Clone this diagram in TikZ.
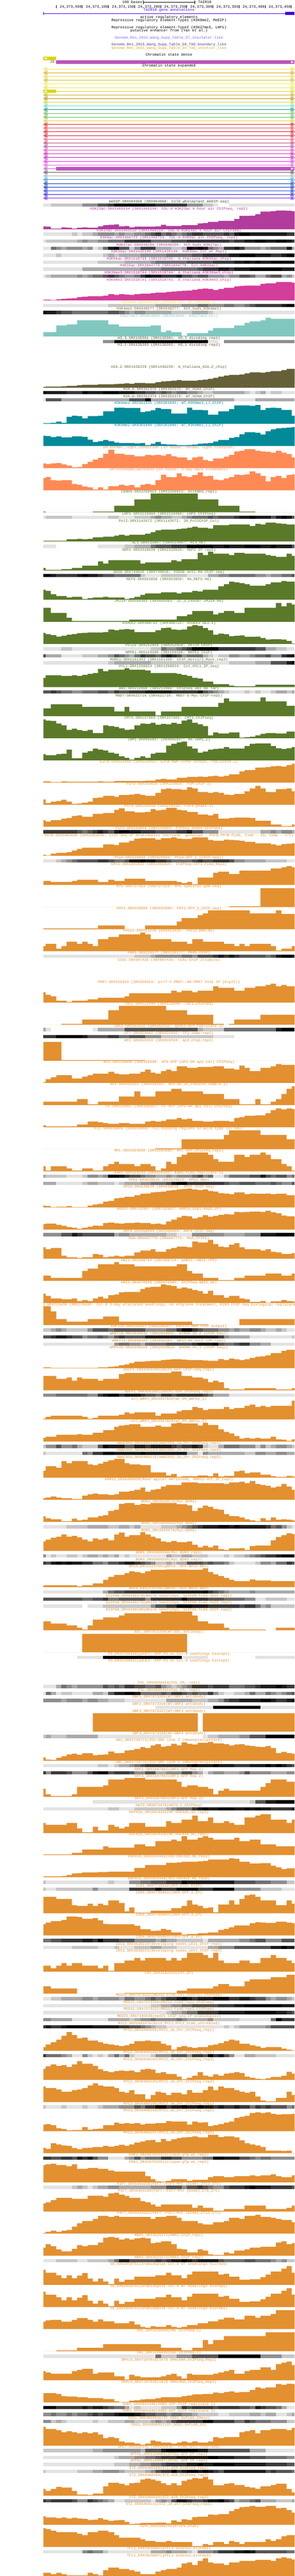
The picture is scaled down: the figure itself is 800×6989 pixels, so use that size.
\documentclass[tikz,border=0pt]{standalone}
\usepackage{fontspec}
\newfontfamily\trackfont{Liberation Mono}
\definecolor{gene_blue}{HTML}{4400DD}
\definecolor{ins_like}{HTML}{7B68EE}
\definecolor{tad_bound}{HTML}{483D8B}
\definecolor{tad_int}{HTML}{DAA520}
\definecolor{st_yellow}{HTML}{D5D800}
\definecolor{st_purple}{HTML}{BC55B8}
\definecolor{c_medip}{HTML}{2F4F2F}
\definecolor{c_acet}{HTML}{B23C9C}
\definecolor{c_k36me3}{HTML}{E010B8}
\definecolor{c_k4me3}{HTML}{D33E9A}
\definecolor{c_k4me2}{HTML}{E8E832}
\definecolor{c_k4me1}{HTML}{7E6F2F}
\definecolor{c_k27me3}{HTML}{80C8BF}
\definecolor{c_h3}{HTML}{5A5530}
\definecolor{c_h2a}{HTML}{666038}
\definecolor{c_k9}{HTML}{028A98}
\definecolor{c_dh}{HTML}{FF8A55}
\definecolor{c_prot}{HTML}{5A7A2A}
\definecolor{c_tf}{HTML}{E39030}
\tikzset{trklabel/.style={font=\trackfont\fontsize{10}{10}\selectfont,inner sep=0pt,
  text height=7pt,text depth=1pt},
  toplabel/.style={trklabel,text=black}}
\newcounter{trkno}
\newcommand{\trackhead}[1]{\stepcounter{trkno}%
  \node[trklabel,text=trk] (lab\thetrkno) at (458.8,-\curY) {#1};}
\newcommand{\heatrow}[2]{\trackhead{#1}%
  \xdef\prevx{118}%
  \foreach \lvl/\zend in {#2}{%
    \pgfmathsetmacro\nextx{round(\zend*0.51086)}%
    \pgfmathsetmacro\inkval{\lvl*100/9}%
    \fill[black!\inkval] (\prevx,-\curY-5) rectangle (\nextx,-\curY-14);%
    \xdef\prevx{\nextx}}%
  \xdef\curY{\the\numexpr\curY+19\relax}}
\newcommand{\bartrack}[3]{\trackhead{#1}%
  \xdef\prevx{118}\gdef\pth{}%
  \foreach \ztop/\zend in {#3}{%
    \pgfmathsetmacro\nextx{round(\zend*0.51086)}%
    \pgfmathsetmacro\topy{-\curY-56+round((#2-(\ztop))/\zscale)}%
    \xdef\pth{\pth -- (\prevx,\topy) -- (\nextx,\topy)}%
    \xdef\prevx{\nextx}}%
  \fill[trk] (118,-\curY-56) \pth -- (800,-\curY-56) -- cycle;%
  \xdef\curY{\the\numexpr\curY+60\relax}}
\newcommand{\blanktrack}[1]{\trackhead{#1}\xdef\curY{\the\numexpr\curY+60\relax}}
\AtBeginDocument{\catcode`\_=12 }
\begin{document}
\begin{tikzpicture}[x=1pt,y=1pt]
  \useasboundingbox (0,0) rectangle (800,-6989);
  \fill[white] (0,0) rectangle (800,-6989);
  % ruler
  \node[toplabel] (bases) at (359,-6) {100 bases};
  \node[toplabel] (asm) at (556,-6) {TAIR10};
  \coordinate (barl) at (388.5,-6.5);
  \coordinate (barr) at (529.5,-6.5);
  \draw[line width=1pt] (barl) -- (barr);
  \draw[line width=1pt] ([yshift=4.5pt]barl) -- ([yshift=-4.5pt]barl);
  \draw[line width=1pt] ([yshift=4.5pt]barr) -- ([yshift=-4.5pt]barr);
  \draw[line width=1pt] (152.5,-13.5) -- (152.5,-22);
  \foreach \k/\pos in {1/050,2/100,3/150,4/200,5/250,6/300,7/350,8/400,9/450}{
    \draw[line width=1pt] (152.5+70.9*\k,-13.5) -- (152.5+70.9*\k,-22);
    \node[toplabel,anchor=east] (pos\k) at (151.5+70.9*\k,-18) {24,373,\pos};
  }
  % gene
  \node[toplabel,text=gene_blue] (tair) at (458.8,-27) {TAIR10 gene annotations};
  \draw[gene_blue,line width=1pt] (118,-36.5) -- (775,-36.5);
  \draw[gene_blue,line width=1pt] (118.5,-32) -- (118.5,-41);
  \fill[gene_blue] (775,-32) rectangle (800,-41);
  \node[toplabel] (act) at (458.8,-46) {active regulatory elements};
  \node[toplabel] (rep1) at (458.8,-55) {Repressive regulatory element-Type1 (H3K9me2, MeDIP)};
  \node[toplabel] (rep2) at (458.8,-74) {Repressive regulatory element-Type2 (H3K27me3, LHP1)};
  \node[toplabel] (enh) at (458.8,-83) {putative enhancer from (Yan et al.)};
  \node[toplabel,text=ins_like] (ins) at (458.8,-102) {Genome_Res_2015_Wang_Supp_Table_S7_insulator-like};
  \node[toplabel,text=tad_bound] (tadb) at (458.8,-121) {Genome_Res_2015_Wang_Supp_Table_S8_TAD_boundary_like};
  \node[toplabel,text=tad_int] (tadi) at (458.8,-130) {Genome_Res_2015_Wang_Supp_Table_S9_TAD_interior_like};
  \node[toplabel] (dense) at (458.8,-149) {Chromatin state dense};
  % dense state row
  \fill[st_yellow] (118,-154) rectangle (152,-163);
  \fill[st_purple] (152,-164) rectangle (800,-173);
  \node[trklabel,text=c_acet!80!black] (st28) at (142,-168) {28};
  \fill[white] (120,-158.5) -- (123.5,-155.5) -- (123.5,-161.5) -- cycle;
  \fill[white] (123.5,-158.5) -- (127,-155.5) -- (127,-161.5) -- cycle;
  \fill[white] (797,-168.5) -- (793.5,-165.5) -- (793.5,-171.5) -- cycle;
  \fill[white] (793.5,-168.5) -- (790,-165.5) -- (790,-171.5) -- cycle;
  \node[toplabel] (expd) at (458.8,-178) {Chromatin state expanded};
  % expanded states
  \foreach \rowhex [count=\r from 0] in {E6E62E,E0A020,E8D83C,C8B830,F0F040,E8E040,D5D800,C8A820,B09000,C8D820,50E0C0,109070,64B450,50B850,D0D820,E81020,E04040,E01010,D01030,E85080,B04060,B040A0,E040B0,D010B0,C010C0,E020E8,E850E8,BC55B8,505050,A8A8A8,1098E0,0030A0,0020C0,1030E0,2010E0,7020F0}{
    \definecolor{rowc}{HTML}{\rowhex}
    \pgfmathsetmacro\cy{-187.5-10*\r}
    \draw[rowc,line width=1pt] (120,\cy) -- (795,\cy);
    \ifnum\r=6\relax
      \fill[rowc] (118,\cy+4.5) rectangle (152,\cy-4.5);
      \fill[white] (120,\cy) -- (123.5,\cy+3) -- (123.5,\cy-3) -- cycle;
      \fill[white] (123.5,\cy) -- (127,\cy+3) -- (127,\cy-3) -- cycle;
    \else
      \draw[rowc,line width=0.9pt] (118.5,\cy) -- (123.5,\cy+4.5) -- (123.5,\cy-4.5) -- cycle;
      \draw[rowc,line width=0.9pt] (123,\cy) -- (128,\cy+4.5) -- (128,\cy-4.5) -- cycle;
    \fi
    \ifnum\r=27\relax
      \fill[rowc] (152,\cy+4.5) rectangle (800,\cy-4.5);
      \fill[white] (797,\cy) -- (793.5,\cy+3) -- (793.5,\cy-3) -- cycle;
      \fill[white] (793.5,\cy) -- (790,\cy+3) -- (790,\cy-3) -- cycle;
    \else
      \draw[rowc,line width=0.9pt] (799.5,\cy) -- (794.5,\cy+4.5) -- (794.5,\cy-4.5) -- cycle;
      \draw[rowc,line width=0.9pt] (795,\cy) -- (790,\cy+4.5) -- (790,\cy-4.5) -- cycle;
    \fi
  }
  % tracks
  \xdef\curY{547}
  \def\zscale{3}
  \colorlet{trk}{c_medip}
  \heatrow{meDIP-SRX004968 (SRX004968: Col0_wholeplant_meDIP-seq)}{1/270,2/437,4/521,6/576,7/606,9/772,8/827,7/994,4/1078,2/1133,1/1160,0/1217,1/1566}
  \colorlet{trk}{c_acet}
  \bartrack{H3K23ac-SRX1469144 (SRX1469144: COL-0 H3K23ac 4 hour air ChIPseq, rep2)}{965}{942/243,945/270,960/327,951/355,954/382,960/410,954/437,951/466,954/521,942/549,933/576,930/606,927/633,942/661,939/688,951/715,945/827,942/855,930/882,939/966,933/1051,918/1078,915/1105,906/1160,897/1245,882/1272,858/1327,855/1356,843/1384,822/1439,819/1466,813/1523,816/1550,819/1566}
  \heatrow{H3K14ac-SRX1469119 (SRX1469119: COL-0 H3K14ac 4 hour air ChIPseq)}{1/382,2/410,1/437,2/494,3/521,4/606,3/633,4/661,3/715,4/772,5/800,6/827,7/855,5/882,6/911,5/939,4/966,5/994,6/1021,7/1078,6/1190,7/1217,6/1245,8/1272,9/1327,8/1523,7/1566}
  \heatrow{H3K9ac-SRX1466723 (SRX1466723: COL-0 H3K9ac air ChIPseq, rep1)}{1/243,2/410,3/437,4/466,3/521,4/576,5/661,7/800,5/911,6/994,7/1217,6/1245,7/1299,8/1356,9/1411,8/1466,9/1523,8/1550,7/1566}
  \heatrow{H3K27ac-SRX648280 (SRX648280: Ath_buds_H3K27ac)}{1/270,5/300,4/327,3/355,4/437,3/466,4/494,1/521,2/549,5/576,8/606,9/633,6/688,2/715,4/745,7/827,3/911,2/966,3/994,9/1021,8/1051,9/1078,8/1105,5/1133,4/1160,3/1190,7/1245,8/1272,7/1299,4/1384,3/1411,4/1439,5/1523,8/1550,3/1566}
  \heatrow{H3K36ac-SRX1426149 (SRX1426149: H3K36ac_Col_wt_Rep1)}{1/300,2/327,1/549,2/576,3/606,2/633,3/745,4/882,5/1021,6/1078,7/1217,8/1272,9/1356,8/1439,7/1495,8/1523,9/1566}
  \heatrow{H3K56ac-SRX1518745 (SRX1518745: A_thaliana_H3K56ac_chip)}{1/521,2/661,3/800,4/827,5/994,6/1133,7/1245,8/1299,9/1327,8/1356,9/1384,8/1439,9/1566}
  \heatrow{H4K16ac-SRX1044778 (SRX1044778: Col-H4K16ac)}{1/437,3/745,4/855,5/1051,6/1078,7/1160,8/1217,7/1245,8/1327,9/1495,8/1566}
  \colorlet{trk}{c_k36me3}
  \heatrow{H3K36me3-SRX1518744 (SRX1518744: A_thaliana_H3K36me3_chip)}{1/243,2/270,3/410,4/437,3/466,4/494,5/549,6/576,7/606,6/633,5/661,4/715,5/745,7/772,9/800,8/855,7/939,8/966,6/1021,5/1051,6/1105,4/1190,3/1217,4/1272,6/1327,5/1356,3/1411,5/1439,6/1495,3/1523,4/1550,2/1566}
  \colorlet{trk}{c_k4me3}
  \bartrack{H3K4me3-SRX1518741 (SRX1518741: A_thaliana_H3K4me3_chip)}{1543}{1537/270,1540/300,1534/327,1531/355,1529/382,1526/410,1517/437,1514/466,1511/521,1509/549,1503/576,1492/606,1497/633,1491/661,1494/688,1497/715,1493/745,1490/772,1488/800,1482/827,1479/882,1473/911,1470/939,1467/966,1464/994,1461/1021,1455/1051,1449/1078,1446/1105,1449/1133,1458/1160,1449/1190,1440/1245,1428/1272,1425/1299,1422/1384,1407/1411,1404/1466,1392/1523,1392/1550,1398/1566}
  \def\zscale{2.613}
  \colorlet{trk}{c_k4me2}
  \heatrow{H3K4me2-DRX066756 (DRX066756: WT_H3K4me2_1)}{1/576,2/827,3/966,4/1051,5/1105,4/1190,5/1245,4/1299,5/1327,6/1356,7/1495,8/1523,9/1566}
  \colorlet{trk}{c_k4me1}
  \heatrow{H3K4me1-SRX648277 (SRX648277: Ath_buds_H3K4me1)}{9/243,8/300,7/327,6/382,5/576,6/633,5/661,4/688,3/715,4/772,3/911,2/1021,3/1105,2/1133,1/1566}
  \colorlet{trk}{c_k27me3}
  \bartrack{H3K27me3-SRX853860 (SRX853860: H3K27me3_Col)}{295}{264/300,217/355,209/410,180/576,209/633,225/800,217/855,264/882,253/911,264/966,290/994,272/1105,253/1133,235/1245,217/1299,199/1327,188/1384,180/1411,162/1439,170/1566}
  \colorlet{trk}{c_h3}
  \heatrow{H3.3-SRX130301 (SRX130301: H3.3 dividing rep1)}{0/549,4/606,9/1105,1/1160,0/1190,4/1566}
  \blanktrack{H3.1-SRX130303 (SRX130303: H3.1 dividing rep1)}
  \colorlet{trk}{c_h2a}
  \bartrack{H2A.Z-SRX1436239 (SRX1436239: A_thaliana_H2A.Z_chip)}{659}{653/243,651/327,648/355,645/410,640/437,638/521,635/606,632/633,630/661,627/688,630/715,625/772,628/827,620/855,615/882,612/911,609/939,604/966,609/1051,604/1078,601/1105,596/1133,588/1160,580/1190,572/1217,567/1272,564/1299,558/1327,549/1384,551/1411,546/1439,542/1495,533/1523,525/1566}
  \heatrow{H2A.X-SRX352375 (SRX352375: WT_H2AX_ChIP)}{9/243,8/355,7/437,9/466,8/549,9/633,8/715,7/772,6/827,5/855,6/882,5/911,4/939,5/994,4/1051,3/1078,2/1133,3/1299,2/1327,1/1356,2/1384,3/1411,1/1439,2/1495,1/1566}
  \heatrow{H2A.W-SRX352374 (SRX352374: WT_H2AW_ChIP)}{1/243,6/327,3/688,6/772,9/800,3/1245,1/1356,3/1566}
  \colorlet{trk}{c_k9}
  \bartrack{H3K9me1-SRX361945 (SRX361945: WT_H3K9me1_LJ_ChIP)}{915}{910/270,907/300,899/327,907/355,865/382,857/410,860/437,875/466,860/521,857/549,826/606,800/661,802/745,831/772,826/800,818/827,802/855,810/911,841/994,800/1021,815/1078,818/1105,849/1160,826/1217,810/1245,784/1327,787/1356,781/1384,815/1411,802/1439,800/1466,802/1495,815/1550,857/1566}
  \bartrack{H3K9me2-SRX361946 (SRX361946: WT_H3K9me2_LJ_ChIP)}{1071}{998/243,1001/270,1009/300,1004/327,1011/382,1004/437,1006/466,1027/494,1043/521,1037/549,1030/576,1037/606,1048/633,1051/715,1053/745,1051/772,1066/800,1056/827,1043/855,1058/882,1061/939,1066/994,1064/1021,1061/1051,1056/1078,1053/1105,1051/1133,1040/1160,1030/1217,1014/1245,1009/1272,988/1299,975/1356,977/1384,990/1411,967/1439,954/1466,946/1495,943/1523,941/1550,938/1566}
  \colorlet{trk}{c_dh}
  \bartrack{DH-normal_light_condition (in house: normal light conditon)}{1228}{1194/243,1200/270,1194/300,1192/327,1202/355,1210/382,1224/410,1220/437,1200/466,1184/494,1168/521,1155/549,1126/576,1098/606,1126/661,1134/715,1145/772,1134/800,1137/827,1134/855,1139/882,1129/911,1145/939,1152/994,1171/1021,1152/1051,1147/1078,1171/1105,1179/1133,1160/1190,1147/1217,1134/1245,1111/1272,1105/1299,1095/1356,1105/1384,1110/1411,1113/1439,1119/1466,1105/1495,1119/1523,1129/1550,1152/1566}
  \bartrack{DH-extended_darkness (in house: 3-day dark treatment)}{1385}{1299/243,1291/270,1315/300,1317/327,1315/382,1341/410,1346/437,1359/466,1364/494,1380/521,1364/549,1380/576,1356/633,1346/661,1354/688,1348/715,1364/745,1346/772,1341/800,1348/827,1315/855,1275/882,1291/911,1294/939,1265/966,1286/994,1291/1021,1278/1051,1260/1078,1286/1105,1283/1133,1309/1160,1315/1190,1301/1217,1291/1245,1275/1272,1278/1299,1273/1327,1252/1356,1265/1384,1283/1411,1322/1439,1291/1466,1283/1495,1299/1523,1278/1550,1273/1566}
  \colorlet{trk}{c_prot}
  \bartrack{CENH3-SRX2250913 (SRX2250913: AtCENH3_rep1)}{1542}{1537/243,1542/494,1537/606,1495/715,1450/800,1408/1051,1450/1160,1495/1272,1537/1356,1542/1566}
  \def\zscale{2.24}
  \heatrow{LHP1-SRX1519404 (SRX1519404: LHP1 ChIPseq)}{1/243,2/382,1/576,2/633,1/715,2/800,3/827,4/855,3/911,2/966,3/994,4/1021,5/1105,6/1133,5/1160,6/1245,7/1272,8/1327,9/1356,8/1439,6/1466,8/1495,9/1523,8/1550,6/1566}
  \bartrack{Pol2-SRX1142672 (SRX1142672: 30_Pol2ChIP_Col)}{155}{150/355,141/410,139/437,141/466,139/494,130/549,125/606,119/633,114/661,119/688,114/772,108/800,99/827,87/855,83/939,78/966,76/994,71/1021,65/1051,72/1105,76/1133,56/1217,52/1327,60/1356,47/1384,52/1411,40/1466,45/1495,47/1523,52/1566}
  \heatrow{AL5-SRX515067 (SRX515067: AL5_OE)}{1/300,0/521,1/661,2/715,3/800,5/827,6/911,7/994,9/1133,8/1190,9/1217,8/1299,9/1384,8/1439,9/1466,8/1550,6/1566}
  \bartrack{HDP2-SRX2310526 (SRX2310526: HDP2 IP rep2)}{332}{316/243,328/327,323/382,316/437,302/521,276/549,289/576,269/745,289/772,282/911,269/939,276/966,262/1051,224/1078,237/1105,217/1133,228/1217,237/1245,224/1299,228/1411,237/1439,242/1466,249/1523,228/1550,242/1566}
  \heatrow{SDG8-SRX749018 (SRX749018: hSDG8 anti-HA ChIP-seq)}{9/270,8/300,7/410,8/437,9/466,8/521,7/549,6/606,5/745,2/772,1/855,2/994,1/1105,3/1160,4/1217,5/1356,4/1411,3/1439,4/1495,5/1550,6/1566}
  \bartrack{REF6-SRX853858 (SRX853858: HA_REF6-HA)}{508}{448/243,455/270,475/300,485/355,495/382,491/437,504/466,500/494,495/549,491/576,495/661,504/688,500/715,491/745,479/772,470/855,464/939,470/966,464/1021,455/1051,459/1078,448/1160,428/1190,414/1217,399/1245,403/1272,408/1299,414/1327,423/1411,414/1439,403/1495,394/1523,399/1566}
  \bartrack{JMJ14-SRX669383 (SRX669383: ZC_3_140207 JMJ14-HA)}{643}{558/270,589/355,618/382,638/688,629/939,609/994,598/1021,578/1133,598/1160,589/1190,578/1245,589/1299,558/1466,529/1495,549/1523,529/1550,538/1566}
  \bartrack{AtDEK3-SRX488722 (SRX488722: AtDEK3 OE3-1)}{777}{710/243,719/270,724/300,732/327,728/355,721/382,717/410,712/437,710/466,708/549,706/576,690/606,694/633,690/661,688/688,690/715,706/827,694/855,681/882,679/911,690/939,692/966,690/994,672/1021,663/1051,668/1078,681/1105,694/1133,721/1160,715/1190,719/1217,730/1245,728/1272,726/1299,735/1356,732/1384,741/1411,750/1439,748/1495,750/1523,759/1550,774/1566}
  \heatrow{PolIV-SRX252954 (SRX252954: PolIV ChIP)}{1/327,2/382,1/800,2/855,5/882,4/939,5/966,6/994,7/1021,9/1160,7/1356,6/1411,3/1466,2/1523,1/1566}
  \heatrow{NRPE1-SRX159106 (SRX159106: NRPE1 ChIP)}{6/243,3/327,1/437,2/521,3/576,4/606,6/633,5/661,4/688,3/715,5/745,7/772,6/827,5/855,7/882,8/911,7/939,6/966,4/994,5/1078,3/1105,2/1133,1/1160,2/1217,4/1272,3/1327,4/1356,5/1411,6/1439,4/1495,7/1523,8/1550,9/1566}
  \heatrow{MORC1-SRX1161363 (SRX1161358: ChIP_morc1/2_Mock_rep3)}{1/576,2/606,3/800,2/1133,1/1217,2/1356,3/1439,6/1523,8/1550,9/1566}
  \bartrack{HYL1-SRX1268024 (SRX1268024: Col_HYL1_IP_seq)}{1039}{983/243,968/327,972/382,968/410,972/437,964/466,959/494,954/521,930/549,943/576,934/661,925/688,934/772,938/800,954/939,959/966,964/994,972/1021,983/1051,988/1078,1006/1133,1021/1217,1030/1245,1035/1356,1026/1566}
  \heatrow{AN3-SRX212060 (SRX212060: Chipseq AN3 HB TAP)}{6/270,7/300,6/327,5/382,4/437,5/521,6/576,5/606,7/633,6/688,7/772,8/911,7/1051,8/1078,6/1105,5/1133,4/1160,3/1190,2/1217,1/1299,2/1327,1/1356,2/1384,1/1439,2/1466,3/1523,2/1550,3/1566}
  \bartrack{MBD7-SRX621716 (SRX621716: MBD7-5-Myc-ChIP-rep1)}{1216}{1169/270,1145/437,1160/606,1187/661,1160/688,1187/827,1212/855,1187/966,1160/1160,1136/1190,1109/1217,1127/1384,1102/1411,1127/1523,1154/1566}
  \bartrack{CMT3-SRX157663 (SRX157663: CMT3_ChIPseq)}{1351}{1236/243,1243/270,1245/300,1261/327,1272/355,1299/382,1292/410,1301/437,1306/466,1299/494,1319/549,1272/576,1277/606,1281/633,1290/661,1299/688,1297/715,1272/745,1261/772,1263/800,1257/827,1268/855,1263/882,1266/911,1257/939,1263/966,1243/994,1236/1021,1257/1051,1266/1078,1277/1105,1333/1133,1315/1160,1322/1217,1315/1272,1346/1299,1344/1327,1341/1356,1333/1384,1324/1411,1319/1466,1322/1523,1310/1566}
  \bartrack{IBM1-DRX066817 (DRX066817: HA-IBM1_2)}{1485}{1447/243,1454/300,1447/327,1445/355,1420/382,1472/437,1438/466,1429/494,1413/521,1420/549,1425/576,1438/606,1445/633,1461/661,1469/688,1481/715,1469/745,1460/772,1469/800,1445/827,1438/882,1395/911,1384/939,1375/966,1371/994,1400/1021,1413/1051,1438/1078,1431/1105,1420/1133,1415/1160,1413/1190,1404/1217,1413/1299,1398/1327,1384/1356,1382/1439,1398/1466,1411/1495,1415/1523,1411/1550,1404/1566}
  \colorlet{trk}{c_tf}
  \bartrack{E2Fa-SRX333416 (SRX333416: E2Fa-HBH TChAP output, replicate 2)}{51}{45/270,48/327,45/355,47/521,45/549,47/606,43/688,41/772,39/827,34/855,29/882,32/939,22/994,18/1051,16/1078,18/1105,13/1133,11/1160,16/1190,11/1217,2/1272,-16/1299,-26/1356,-38/1384,-41/1411,-43/1439,-47/1466,-49/1495,-45/1523,-54/1550,-63/1566}
  \bartrack{PIF3-SRX159028 (SRX159028: P3M-ChIP-3)}{186}{155/243,176/270,168/300,164/327,157/355,168/382,182/410,179/437,175/466,168/494,146/521,143/549,132/606,139/633,128/688,125/715,121/745,128/772,132/827,114/855,92/882,87/911,92/966,96/994,81/1021,87/1051,110/1105,114/1133,110/1160,114/1190,125/1217,128/1245,121/1299,105/1327,87/1356,72/1384,87/1411,110/1466,92/1523,87/1550,105/1566}
  \bartrack{PIF4-SRX214150 (SRX214150: PIF4-peaks-3)}{320}{280/243,289/270,280/327,271/355,267/382,255/410,251/437,260/494,242/549,237/606,217/633,208/661,226/715,233/772,231/800,213/827,222/855,217/882,206/939,217/966,222/994,231/1051,247/1105,251/1133,242/1160,271/1217,267/1245,264/1327,267/1356,284/1439,306/1495,316/1550,306/1566}
  \heatrow{PIF5-SRX115869 (SRX115869: PIF5ox shade ChIPSeq)}{7/410,6/437,5/466,6/494,7/521,8/549,7/576,6/606,8/633,9/688,8/745,7/827,6/939,7/994,8/1021,6/1078,4/1160,1/1384,3/1439,4/1466,3/1495,4/1550,3/1566}
  \bartrack{PHYB-SRX2083648 (SRX2083648: ChIP-Seq of Arabidopsis thaliana: genotype - PHYB:PHYB-FLAG, time - 10, temp - 17C)}{497}{491/243,494/270,483/300,479/355,475/382,466/410,455/437,448/549,428/606,432/633,417/688,405/715,392/745,390/827,399/855,390/911,385/939,392/966,394/1021,385/1105,401/1133,405/1190,399/1217,401/1245,403/1272,406/1299,412/1356,421/1439,428/1466,435/1495,426/1523,423/1550,421/1566}
  \heatrow{PhyA-SRX320094 (SRX320094: PhyA-GFP_1 [ChIP-seq])}{1/300,2/327,3/355,4/382,5/410,6/521,7/576,6/606,5/661,6/688,8/745,9/772,8/827,7/882,6/911,5/1021,6/1051,7/1078,6/1133,7/1217,6/1245,4/1299,3/1411,2/1523,1/1566}
  \bartrack{CRY2-SRX1005826 (SRX1005826: ChIPSeq-CRY2_FLAG_Rep1)}{674}{650/270,656/382,650/410,643/521,656/576,643/606,650/661,636/772,650/939,656/966,663/994,656/1021,670/1051,629/1133,600/1160,594/1217,607/1272,587/1439,573/1495,567/1523,560/1550,567/1566}
  \bartrack{HY5-SRX727353 (SRX727353: HY5 specific gDB-seq)}{809}{809/1217,804/1384,694/1566}
  \bartrack{FHY1-SRX555090 (SRX555090: FHY1-GFP_2_ChIP-seq)}{943}{939/521,921/661,943/772,921/939,896/966,876/1051,858/1078,847/1105,829/1327,847/1466,829/1495,851/1566}
  \bartrack{FRS12-ERX611626 (ERX611626: FRS12_HBH_N2)}{1077}{1046/243,1033/300,1062/327,1046/355,1019/410,1033/437,1019/466,1033/494,1046/521,1004/576,990/633,974/745,963/772,974/800,1004/911,1019/994,1033/1021,1004/1078,1019/1190,1033/1245,1046/1272,1033/1299,1046/1327,1033/1439,1046/1466,1073/1495,1062/1550,1046/1566}
  \heatrow{PRR5-SRX128177 (SRX128177: PRR5-ChIP)}{1/715,2/800,3/827,4/966,5/1021,4/1051,6/1133,7/1160,8/1190,7/1217,8/1245,7/1272,6/1411,5/1439,6/1466,8/1495,9/1550,8/1566}
  \blanktrack{CCA1-SRX997425 (SRX997425: CCA1-ChIP_Illumina)}
  \bartrack{PRR7-SRX328353 (SRX328353: prr7-3 PRR7::HA-PRR7 \#151 IP (ExpII))}{1389}{1326/243,1342/270,1351/300,1378/355,1384/382,1378/466,1369/521,1360/661,1351/688,1333/911,1317/939,1326/966,1317/1021,1326/1051,1317/1133,1290/1160,1299/1245,1317/1299,1299/1356,1290/1411,1281/1439,1275/1466,1290/1495,1281/1523,1290/1566}
  \bartrack{TOC1-SRX121040 (SRX121040: TOC1_ChIPSeq)}{1523}{1523/327,1519/437,1492/576,1436/633,1409/882,1436/994,1463/1133,1519/1190,1523/1217,1519/1245,1492/1384,1463/1566}
  \heatrow{SOC1-SRX262132 (SRX262132: gSOC1-GFP replicate 3)}{3/243,1/270,0/494,1/521,3/661,6/1051,3/1078,2/1190,5/1466,8/1495,9/1566}
  \heatrow{LFY-SRX029442 (SRX029442: lfy-samp-rep2)}{7/300,9/437,8/466,6/576,7/633,5/688,6/772,4/855,2/1133,1/1245,0/1566}
  \bartrack{AP2-SRX019319 (SRX019319: ap2_chip_rep2)}{175}{60/327,170/772,175/1566}
  \bartrack{AP3-SRX150808 (SRX150808: AP3-GFP (AP1-GR ap1 cal) ChIPseq)}{309}{305/243,287/270,276/300,262/382,282/437,271/466,262/494,253/576,242/606,253/633,258/688,253/745,242/772,228/800,246/827,253/855,237/882,228/911,237/939,208/994,217/1051,213/1133,208/1190,222/1245,228/1272,204/1299,217/1327,237/1384,217/1439,208/1466,195/1495,199/1566}
  \bartrack{AP1-SRX018392 (SRX018392: AP1-GR_2h_induced_sample_1)}{444}{423/410,408/466,439/521,423/633,392/715,361/745,392/827,361/911,345/966,361/1078,376/1190,408/1272,439/1356,408/1384,439/1439,423/1466,408/1495,376/1523,345/1550,329/1566}
  \bartrack{PI-SRX150807 (SRX150807: PI-GFP (AP1-GR ap1 cal) ChIPseq)}{578}{567/243,574/410,562/466,544/521,549/549,553/576,558/633,553/688,558/772,544/800,540/827,544/855,540/882,531/939,522/966,531/994,526/1021,540/1078,544/1133,540/1217,544/1245,522/1272,517/1299,508/1356,506/1411,493/1439,475/1466,464/1495,470/1523,464/1550,468/1566}
  \bartrack{FLC-SRX039006 (SRX039006: FLC binding regions in wild type Col FRI)}{712}{712/827,708/966,652/1190,625/1217,598/1384,625/1523,652/1566}
  \bartrack{RPL-SRX1603698 (SRX1603698: RPL-GFP_chipseq_rep1)}{847}{815/243,842/270,815/355,829/382,842/437,829/494,842/549,815/576,802/606,788/633,802/715,815/745,802/800,815/827,842/855,829/882,788/911,802/939,759/966,746/994,732/1105,746/1133,773/1160,788/1245,746/1299,759/1327,746/1384,732/1411,746/1439,773/1495,802/1523,815/1550,842/1566}
  \heatrow{KAN1-SRX310193 (SRX310193: KAN1-FLAG replicate 1)}{3/243,2/355,1/437,2/466,4/521,3/549,4/576,9/633,8/661,7/688,6/745,5/772,4/827,3/882,4/911,3/939,4/1021,5/1051,6/1078,4/1105,5/1133,1/1190,3/1217,5/1327,6/1384,8/1411,6/1439,5/1466,6/1523,4/1550,5/1566}
  \heatrow{PPD2-ERX620625 (ERX620625: PPD2_HBH)}{3/300,1/437,2/466,3/521,2/606,1/633,2/661,3/745,4/800,5/882,6/911,8/939,9/994,7/1190,6/1217,5/1272,6/1356,5/1439,6/1466,5/1495,4/1550,6/1566}
  \bartrack{SPCH-SRX539638 (SRX539638: SPCH ChIP-Seq)}{1066}{1054/243,1056/270,1063/300,1061/355,1058/382,1063/466,1054/494,1049/521,1043/549,1031/576,1025/606,1011/633,1008/661,1000/715,993/745,982/772,980/800,975/827,972/855,970/882,964/911,960/939,956/966,954/994,952/1021,956/1051,960/1078,957/1105,965/1133,970/1160,978/1190,980/1217,986/1245,975/1299,986/1327,980/1356,983/1411,980/1439,986/1466,984/1495,982/1523,992/1566}
  \bartrack{ARR10-SRX732967 (SRX732967: ARR10_Exp1_Rep1_IP)}{1201}{1167/243,1165/300,1172/327,1178/355,1185/382,1189/410,1196/437,1189/466,1183/494,1176/521,1178/549,1160/576,1158/606,1163/633,1165/661,1160/715,1158/745,1160/800,1167/827,1165/855,1169/882,1151/911,1140/939,1127/966,1118/994,1120/1021,1133/1051,1125/1078,1113/1105,1122/1133,1118/1160,1111/1190,1107/1217,1109/1245,1093/1272,1095/1299,1093/1327,1091/1384,1093/1411,1086/1439,1095/1466,1102/1495,1116/1523,1120/1566}
  \heatrow{ARF6-SRX368984 (SRX368984: ARF6 ChIP-Seq)}{4/327,6/382,8/410,7/437,6/606,3/633,4/688,3/882,2/939,1/1021,4/1190,3/1299,4/1384,8/1466,9/1566}
  \bartrack{RGA-SRX647775 (SRX647775: RGA_ChIP2)}{1378}{1308/243,1319/270,1313/327,1360/355,1369/410,1373/437,1369/494,1348/521,1353/549,1369/576,1364/606,1360/633,1364/661,1360/715,1340/745,1328/800,1319/827,1335/882,1319/911,1313/939,1304/994,1308/1021,1272/1051,1279/1105,1263/1133,1288/1160,1304/1190,1308/1217,1293/1245,1284/1272,1308/1299,1319/1384,1328/1411,1319/1439,1335/1466,1340/1495,1348/1550,1344/1566}
  \bartrack{HBI1-SRX388754 (SRX388754: pHBI1::HBI1-YFP)}{1512}{1481/270,1494/437,1452/466,1438/521,1411/606,1398/633,1411/715,1425/939,1411/994,1452/1021,1467/1078,1494/1160,1508/1245,1494/1299,1481/1411,1467/1495,1481/1550,1467/1566}
  \bartrack{ABI5-SRX670505 (SRX670505: ChIPSeq-ABI5_Ab)}{77}{20/243,34/270,49/327,54/382,49/410,65/437,60/466,65/494,49/521,40/549,49/576,29/606,25/633,13/661,9/745,-8/772,-16/800,-21/855,-36/882,-31/911,-27/939,-11/966,-16/994,-11/1021,-2/1051,5/1078,20/1105,4/1133,29/1190,45/1217,34/1272,49/1299,54/1327,70/1384,65/1411,74/1439,69/1495,60/1523,65/1550,69/1566}
  \bartrack{3-SRX215430 (SRX215430: Col-0 3-day etiolated seedlings, no ethylene treatment, EIN3 ChIP-Seq biological replicate}{213}{99/270,130/300,177/355,193/466,177/549,161/633,193/1021,208/1105,213/1272,177/1566}
  \heatrow{ERF115-SRX320167 (SRX320167: ERF115-HBH ChIP output)}{2/270,3/300,4/327,3/355,2/466,4/494,6/576,5/606,6/772,4/882,5/939,7/966,9/1021,7/1051,6/1078,5/1160,4/1217,3/1245,4/1272,3/1327,4/1384,3/1411,2/1466,3/1495,2/1523,1/1566}
  \heatrow{WRKY18-SRX2039032 (SRX2039032: W18HA_0h_2 (ChIP-Seq))}{6/270,7/300,8/355,7/382,6/437,4/466,5/521,6/549,5/576,4/606,6/633,7/661,6/772,8/1160,7/1190,4/1217,3/1327,1/1550,2/1566}
  \heatrow{WRKY33-SRX890383 (SRX890383: WK33-HA mock 14h rep1)}{1/606,4/633,5/688,4/745,3/772,5/882,6/1021,7/1051,8/1133,9/1160,6/1190,5/1245,6/1272,7/1327,4/1384,3/1439,1/1566}
  \bartrack{WRKY40-SRX2039026 (SRX2039026: W40HA_0h_1 (ChIP-Seq))}{473}{468/270,470/521,468/576,465/606,462/633,455/661,450/688,441/715,433/772,430/800,428/855,423/882,421/911,419/966,421/994,423/1078,426/1105,428/1160,417/1190,423/1217,414/1245,419/1272,423/1299,419/1327,410/1356,403/1384,401/1411,394/1439,381/1495,367/1523,361/1566}
  \bartrack{ADCP1-SRX4503490(ADCP1-GFP ChIP-seq_rep1)}{609}{522/300,540/355,531/382,551/410,531/437,540/521,551/549,540/633,511/661,504/911,495/966,522/1021,531/1078,540/1105,560/1133,551/1160,560/1190,596/1217,605/1299,596/1466,605/1550,596/1566}
  \heatrow{ADCP1_SRX4503492(ADCP1-GFP_ChIPseq_rep2)}{4/300,5/466,4/521,7/549,8/576,9/633,7/661,8/745,7/772,6/827,5/855,7/911,6/939,7/1078,6/1105,5/1133,3/1217,1/1566}
  \bartrack{all_WRKY_SRX3557820(wt_0h_aWrky_1)}{786}{782/243,771/270,764/437,771/466,782/494,777/521,764/633,757/661,744/688,750/715,744/827,764/855,750/939,737/966,730/1021,710/1051,717/1078,730/1105,724/1190,710/1217,724/1245,717/1299,704/1327,697/1356,710/1384,704/1411,710/1439,704/1550,672/1566}
  \bartrack{all_WRKY_SRX3557828(wt_0h_aWrky_2)}{921}{898/243,892/300,880/410,876/437,880/494,867/549,851/606,831/633,824/661,820/688,815/745,831/827,824/855,831/911,811/939,806/966,811/1051,824/1078,806/1105,820/1160,847/1190,862/1217,871/1245,887/1272,903/1299,898/1327,903/1356,898/1384,903/1439,892/1466,907/1495,910/1523,916/1550,907/1566}
  \heatrow{ANAC055_SRX6460113(ANAC055_JA_2hr_ChIPseq_rep1)}{2/243,4/300,6/327,4/382,5/410,3/437,2/521,6/549,9/576,8/661,6/715,8/772,7/800,8/911,7/939,6/966,7/1021,8/1051,7/1078,2/1105,1/1160,3/1190,5/1272,4/1356,2/1384,4/1411,2/1439,3/1466,4/1523,3/1550,2/1566}
  \heatrow{ANAC055_SRX6460114(ANAC055_JA_2hr_ChIPseq_rep2)}{2/243,1/437,5/466,4/494,7/549,9/606,8/745,9/772,8/994,3/1051,1/1078,4/1105,3/1299,2/1356,4/1411,3/1466,4/1523,3/1566}
  \bartrack{ANAC055_SRX6460115(ANAC055_JA_2hr_ChIPseq_rep3)}{1140}{1098/243,1071/300,1080/327,1039/355,1053/382,1039/466,1060/494,1064/521,1055/549,1044/576,1035/606,1026/661,1053/688,1060/745,1064/800,1109/882,1127/911,1118/939,1136/966,1130/1051,1127/1105,1130/1133,1113/1160,1133/1190,1129/1245,1102/1272,1098/1299,1113/1327,1109/1384,1122/1439,1130/1466,1136/1523,1129/1550,1134/1566}
  \bartrack{ARR12_SRX6490939(Root apical meristems, ARR12-GFP_IP_rep2)}{1275}{1267/243,1261/270,1254/300,1261/327,1267/382,1271/437,1250/466,1241/494,1236/521,1241/576,1245/606,1241/633,1225/688,1221/715,1214/745,1201/772,1225/800,1214/827,1210/855,1194/882,1185/966,1169/1051,1174/1190,1178/1217,1169/1272,1165/1299,1174/1327,1160/1356,1178/1384,1185/1411,1189/1439,1201/1466,1194/1495,1178/1523,1194/1550,1214/1566}
  \bartrack{BDR1_SRX3928572(Myc_BDR1)}{1409}{1375/243,1387/270,1393/327,1404/382,1389/410,1400/437,1396/466,1382/521,1373/549,1369/576,1342/606,1335/633,1299/661,1295/715,1306/745,1299/772,1302/800,1295/939,1302/994,1309/1021,1342/1051,1324/1078,1310/1105,1317/1133,1331/1160,1335/1190,1362/1217,1373/1245,1375/1272,1382/1299,1393/1327,1400/1356,1404/1384,1387/1411,1400/1439,1382/1466,1396/1495,1393/1523,1396/1550,1400/1566}
  \heatrow{BDR1_SRX5900593(Myc BDR1)}{1/355,2/466,3/576,2/633,3/688,2/715,3/745,1/855,2/939,3/966,4/994,5/1021,6/1051,7/1078,8/1160,9/1217,8/1245,9/1272,8/1411,7/1439,5/1466,6/1495,4/1523,2/1550,1/1566}
  \bartrack{BDR2_SRX3928574(Myc_BDR2)}{1586}{1528/243,1516/270,1505/300,1499/327,1485/355,1499/382,1494/410,1503/437,1516/466,1528/494,1510/521,1516/549,1510/576,1521/606,1485/633,1473/661,1499/688,1490/745,1472/772,1485/800,1499/827,1510/855,1528/882,1532/911,1525/939,1532/994,1528/1021,1548/1051,1564/1078,1555/1105,1564/1133,1552/1160,1575/1190,1580/1217,1570/1272,1568/1299,1580/1327,1556/1356,1552/1439,1521/1466,1501/1495,1490/1523,1478/1550,1484/1566}
  \heatrow{BDR3_SRX5900594(Myc BDR3 rep1)}{4/243,1/270,2/300,1/355,2/410,1/437,2/466,3/521,2/549,3/576,2/606,3/633,1/661,2/688,1/882,3/911,2/966,3/1021,2/1105,1/1190,2/1217,1/1245,2/1299,3/1327,4/1356,5/1384,6/1411,7/1466,8/1495,9/1566}
  \heatrow{BDR3_SRX5900595(Myc BDR3 rep2)}{7/243,6/270,8/300,9/327,8/355,9/382,8/437,7/494,5/549,4/576,6/633,7/661,8/715,7/745,6/772,5/800,4/827,2/882,3/911,2/939,3/994,6/1078,5/1105,6/1133,5/1190,4/1217,2/1245,1/1356,2/1384,4/1439,3/1466,5/1523,7/1550,6/1566}
  \bartrack{BPC6_ERX2223705(pBPC6::GFP:BPC6-BR1)}{237}{226/410,232/437,226/494,215/549,193/576,175/606,164/661,152/688,141/715,146/745,152/772,141/800,132/882,130/994,132/1078,123/1105,146/1133,159/1160,170/1190,181/1217,193/1245,202/1327,190/1356,197/1439,202/1566}
  \heatrow{BPC6_ERX2223706(pBPC6::GFP:BPC6-BR1)}{1/549,3/576,5/606,6/661,7/800,8/1078,9/1105,7/1133,6/1160,5/1190,4/1217,3/1327,4/1356,3/1566}
  \heatrow{bZIP68_SRX6410178(Whole seedlings, bZIP68-FLAG.CHIP.rep1)}{6/437,5/494,6/549,7/576,5/633,6/772,4/800,7/966,9/994,7/1105,6/1190,5/1299,4/1356,1/1411,2/1523,1/1566}
  \heatrow{bZIP68_SRX6410179(Whole seedlings, bZIP68-FLAG.CHIP.rep2)}{1/437,0/466,1/549,2/800,4/827,6/882,7/939,9/1021,8/1105,7/1272,6/1299,7/1356,5/1384,3/1411,4/1439,2/1566}
  \bartrack{bZIP68_SRX6410180(Whole seedlings, bZIP68-FLAG.CHIP.rep3)}{500}{446/270,459/355,470/410,484/437,495/466,470/494,435/549,421/633,410/661,396/855,385/1021,410/1051,446/1105,459/1190,484/1217,495/1411,500/1466,484/1566}
  \bartrack{EEL_SRX7873339(WT:EEL antibody)}{632}{632/437,520/994,632/1566}
  \heatrow{FD_ERX2338310(pSUC2::GFP:FD in Col-0 seedlings biorep1)}{0/410,1/549,9/966,1/1105,0/1356,1/1566}
  \blanktrack{FD_ERX2338311(pSUC2::GFP:FD in Col-0 seedlings biorep2)}
  \heatrow{FUL_SRX3505414(FUL IM, rep1)}{1/300,3/327,5/355,4/382,3/410,4/549,6/576,5/606,6/633,5/661,7/715,6/772,5/827,6/855,4/882,3/911,2/939,3/966,4/994,5/1021,7/1105,6/1133,7/1217,5/1299,6/1356,7/1384,8/1466,9/1495,8/1523,7/1566}
  \heatrow{FUL_SRX3505415(FUL IM, rep2)}{1/243,5/270,3/300,1/327,2/382,1/494,3/549,2/576,6/606,8/661,9/715,8/745,5/855,6/882,5/911,7/966,6/994,5/1021,6/1051,5/1105,7/1133,4/1160,2/1190,1/1245,2/1299,3/1327,5/1356,3/1411,5/1439,4/1466,3/1495,4/1523,5/1550,6/1566}
  \heatrow{GBF1_SRX7873305(WT:GBF1 antibody)}{4/327,3/355,4/437,3/466,4/521,3/576,2/661,1/882,3/1021,2/1105,3/1160,4/1190,6/1217,7/1272,8/1384,9/1439,8/1466,7/1523,8/1550,9/1566}
  \heatrow{GBF2_SRX7873316(WT:GBF2 antibody)}{0/827,1/1133,9/1384,1/1566}
  \bartrack{GBF3_SRX7873327(WT:GBF3 antibody)}{1113}{1113/494,1001/1051,1113/1078,1001/1566}
  \heatrow{GBF4_SRX7873338(WT:GBF4 antibody)}{2/243,3/270,2/355,3/521,1/911,0/1078,1/1105,2/1160,3/1272,4/1327,6/1411,9/1566}
  \bartrack{GNC_SRX3739773(35S:GNC line 2 immunoprecipitate)}{1292}{1272/243,1286/270,1288/300,1275/327,1266/355,1254/382,1250/410,1257/437,1248/494,1259/521,1257/549,1254/576,1236/606,1248/633,1245/661,1230/688,1228/715,1221/745,1210/772,1216/800,1201/827,1192/855,1207/882,1203/911,1189/939,1198/966,1180/994,1189/1021,1194/1051,1183/1105,1178/1133,1187/1190,1192/1217,1201/1245,1194/1272,1192/1299,1201/1327,1203/1356,1207/1384,1210/1411,1203/1439,1216/1466,1245/1495,1239/1523,1245/1550,1250/1566}
  \heatrow{GNC_SRX3739775(35S:GNC line 1 immunoprecipitate)}{1/521,2/576,1/606,2/633,3/688,4/715,5/745,6/772,7/994,8/1021,9/1051,8/1133,9/1160,8/1245,7/1327,8/1411,9/1439,8/1466,9/1495,8/1523,7/1550,6/1566}
  \heatrow{GRF1_SRX5507863(GRF1-GFP Rep 3)}{7/243,4/270,7/355,6/382,4/466,6/494,8/521,9/576,6/606,7/688,6/715,4/772,6/827,3/882,4/966,6/1021,4/1051,3/1078,1/1105,3/1133,4/1190,3/1272,4/1299,6/1327,4/1439,3/1523,4/1566}
  \bartrack{GRF3_SRX5507865(GRF3-GFP Rep 2)}{1512}{1463/243,1496/270,1508/382,1496/410,1452/549,1443/576,1407/661,1398/772,1407/939,1420/966,1452/994,1443/1051,1452/1105,1463/1133,1496/1160,1474/1190,1463/1217,1474/1384,1452/1411,1429/1439,1407/1523,1420/1566}
  \heatrow{GRF3_SRX5507866(GRF3-GFP Rep 3)}{0/494,1/1327,2/1356,6/1411,8/1466,9/1566}
  \heatrow{HAT3_SRX875470(HAT3-1 ChIPSeq)}{1/576,2/633,1/715,2/882,3/911,4/939,5/1021,7/1051,8/1078,9/1105,8/1160,9/1245,8/1299,9/1327,8/1356,9/1384,8/1439,7/1550,8/1566}
  \bartrack{HSFA1b_SRX2024335(NP:HSFA1b_NS_rep1)}{164}{103/243,114/355,103/410,137/437,159/494,125/521,148/576,114/606,125/633,137/661,125/688,103/772,125/882,92/911,103/966,83/1021,58/1051,92/1105,69/1133,103/1190,92/1217,103/1245,114/1299,69/1356,58/1384,49/1439,83/1523,103/1550,83/1566}
  \bartrack{HSFA1b_SRX2024336(NP:HSFA1b_NS_rep2)}{298}{293/382,284/437,264/549,244/576,253/715,233/772,244/827,213/911,204/939,213/966,184/994,204/1051,193/1078,184/1105,193/1133,204/1245,193/1272,213/1327,204/1384,233/1466,244/1566}
  \bartrack{HSFA1b_SRX2024343(35S:HSFA1b_NS_rep1)}{432}{428/327,426/355,419/382,410/410,407/437,403/521,401/576,399/715,376/772,358/882,345/939,343/966,338/1051,336/1078,333/1105,325/1217,318/1245,320/1272,338/1327,349/1384,347/1439,363/1466,372/1495,383/1523,379/1566}
  \heatrow{HSFA1b_SRX2024344(35S:HSFA1b_NS_rep2)}{2/243,1/576,2/606,1/688,4/745,5/800,6/882,7/966,9/994,8/1245,6/1356,5/1439,4/1523,2/1566}
  \heatrow{ICE1_SRX7719242(GFP-ICE1_ChIP)}{2/243,1/300,2/494,4/521,2/688,7/827,9/855,7/939,9/1051,7/1133,9/1245,4/1384,2/1495,1/1566}
  \bartrack{IDD4_SRX4705001(IDD4-GFP_1_IP)}{652}{551/300,564/382,603/410,607/466,594/494,607/521,594/549,603/576,573/633,589/661,641/688,616/715,648/800,637/911,620/966,607/994,573/1021,598/1051,607/1078,620/1105,616/1133,645/1160,598/1217,573/1245,598/1272,564/1299,542/1327,538/1356,551/1384,573/1466,603/1523,573/1550,594/1566}
  \bartrack{IDD4_SRX4705002(IDD4-GFP_3_IP)}{786}{719/243,708/270,699/327,692/355,672/410,674/437,685/494,681/521,694/549,717/576,719/715,728/745,748/800,759/827,757/855,746/882,753/911,768/966,782/994,777/1051,773/1105,768/1160,753/1190,746/1217,737/1245,726/1327,712/1356,706/1384,708/1411,710/1466,703/1523,708/1550,712/1566}
  \heatrow{IDD4_SRX4705003(IDD4-GFP_4_IP)}{5/270,6/327,7/437,8/494,7/521,9/549,7/633,6/715,4/827,3/855,4/882,3/939,2/1078,1/1105,3/1272,4/1327,5/1356,6/1411,4/1495,6/1566}
  \heatrow{LEC1_SRX3638219(developing seeds_LEC1_ChIP rep1)}{1/382,2/521,1/606,2/633,1/715,2/800,3/855,2/939,1/1105,3/1160,4/1245,6/1439,8/1495,9/1523,8/1566}
  \bartrack{LEC1_SRX3638221(developing seeds_LEC1_ChIP rep2)}{1006}{970/270,986/300,970/327,954/355,970/382,954/437,970/521,986/549,970/576,1001/606,954/661,939/715,923/745,939/772,923/882,939/911,923/939,939/966,923/994,892/1078,905/1105,923/1133,892/1160,939/1190,954/1272,939/1327,954/1384,923/1439,905/1466,923/1523,939/1550,954/1566}
  \bartrack{LHY_SRX3182010(LHY_IP)}{1140}{1095/270,1109/410,1140/661,1136/939,1122/994,1109/1133,1095/1160,1082/1217,1095/1299,1066/1327,1053/1439,1039/1523,1026/1566}
  \heatrow{MED12_SRX7573312(MED12-FLAG_col_control_ChIPseq)}{1/270,2/327,3/437,4/494,3/521,4/633,3/661,5/715,4/772,5/800,6/827,5/855,6/882,7/939,8/966,9/994,8/1021,7/1051,8/1133,9/1217,7/1272,8/1327,7/1356,6/1411,4/1439,3/1466,4/1523,3/1550,2/1566}
  \heatrow{MED12_SRX7573320(MED12-FLAG_rep1_ChIPseq)}{1/800,2/855,3/911,4/966,5/1021,6/1160,7/1245,8/1299,9/1495,8/1566}
  \heatrow{MED12_SRX7573322(MED12-FLAG_rep2_ChIPseq)}{1/882,2/911,3/966,4/994,5/1051,7/1160,8/1299,9/1466,8/1523,7/1550,6/1566}
  \heatrow{MED25_SRX7445540(med25 ChIP-seq of arabidopsis)}{4/270,3/382,1/576,3/688,2/715,3/745,4/800,5/827,4/939,5/966,4/994,3/1105,4/1133,2/1272,1/1439,5/1466,9/1495,7/1566}
  \heatrow{MYC2_SRX5982476(myc2_MYC2:MYC2_FLAG_untreated)}{7/243,8/270,7/327,8/355,9/494,8/633,7/688,6/745,5/772,4/800,3/827,2/882,1/1190,2/1217,1/1245,2/1272,3/1411,4/1439,6/1566}
  \bartrack{MYC2_SRX6460101(MYC2_JA_2hr_ChIPseq_rep1)}{1487}{1465/243,1449/270,1436/300,1420/327,1396/355,1373/382,1391/410,1411/437,1407/466,1425/521,1436/549,1445/576,1449/606,1454/633,1458/661,1454/688,1445/715,1429/772,1425/800,1429/855,1445/882,1454/911,1481/939,1465/966,1458/994,1465/1021,1469/1051,1465/1105,1454/1133,1449/1160,1440/1190,1429/1217,1420/1245,1425/1272,1445/1327,1454/1356,1460/1384,1469/1411,1465/1495,1474/1523,1481/1550,1485/1566}
  \heatrow{MYC2_SRX6460102(MYC2_JA_2hr_ChIPseq_rep2)}{7/243,5/327,4/355,3/382,1/437,4/466,2/494,1/521,2/549,1/576,3/606,5/633,3/661,5/688,2/715,1/800,2/827,4/911,6/994,4/1021,7/1078,6/1105,9/1133,7/1160,8/1190,6/1217,4/1245,1/1299,3/1356,2/1466,1/1566}
  \bartrack{MYC2_SRX6460103(MYC2_JA_2hr_ChIPseq_rep3)}{96}{29/243,13/270,2/300,10/327,7/355,18/382,2/410,-18/437,-2/494,11/521,31/549,43/576,49/606,43/633,40/661,43/688,40/715,49/745,34/772,29/800,34/827,54/855,49/882,60/939,76/966,92/994,83/1021,72/1051,49/1078,69/1105,76/1133,63/1160,72/1190,58/1217,54/1245,49/1272,54/1299,76/1327,83/1356,90/1384,92/1411,87/1439,78/1495,72/1523,47/1550,58/1566}
  \bartrack{MYC2_SRX6460104(MYC2_JA_2hr_ChIPseq_rep4)}{231}{137/243,146/300,155/327,168/382,159/410,155/437,146/466,130/494,116/521,130/549,137/606,146/633,168/661,175/688,159/715,184/772,213/800,188/827,168/855,175/882,188/911,175/966,184/994,159/1021,175/1078,159/1105,137/1133,159/1160,137/1190,146/1245,159/1272,168/1299,175/1327,168/1356,197/1384,222/1411,226/1466,206/1523,168/1550,188/1566}
  \heatrow{MYC3_SRX6460105(MYC3_JA_2hr_ChIPseq_rep1)}{2/243,1/327,2/355,1/437,2/466,1/521,2/549,3/633,4/715,6/745,5/772,7/827,9/882,7/911,8/966,9/994,8/1051,9/1078,8/1133,7/1160,8/1190,7/1245,8/1272,7/1327,5/1356,7/1384,6/1411,7/1439,6/1523,4/1550,5/1566}
  \bartrack{MYC3_SRX6460106(MYC3_JA_2hr_ChIPseq_rep2)}{408}{368/243,365/270,372/300,390/327,394/355,404/382,401/437,383/466,399/494,394/521,392/549,372/606,356/633,363/661,358/688,363/715,358/745,368/772,363/827,358/882,347/911,349/994,368/1021,349/1051,356/1078,354/1105,376/1133,372/1160,365/1190,356/1217,349/1245,327/1272,320/1299,314/1327,298/1356,293/1384,298/1411,293/1439,302/1466,307/1495,305/1550,302/1566}
  \bartrack{MYC3_SRX6460107(MYC3_JA_2hr_ChIPseq_rep3)}{542}{508/243,515/270,482/300,488/327,495/355,497/382,511/410,517/437,511/466,508/494,504/549,497/576,502/606,497/633,491/661,497/688,488/715,477/745,470/772,464/800,461/827,475/855,455/882,468/911,457/939,450/966,446/994,443/1021,439/1051,446/1105,430/1160,443/1190,439/1245,446/1272,464/1299,482/1327,488/1356,495/1384,504/1411,526/1495,529/1523,526/1550,540/1566}
  \heatrow{PHE1_SRX5676333(silique.gfp.wt_rep1)}{7/270,6/327,7/382,6/410,8/437,7/466,8/494,6/521,4/576,1/661,3/688,4/715,6/745,4/772,5/855,7/911,6/966,4/1078,5/1133,9/1190,8/1272,6/1327,5/1356,4/1384,5/1439,4/1566}
  \bartrack{PHE1_SRX5676335(silique.gfp.wt_rep2)}{719}{614/243,609/270,605/300,614/355,620/382,609/410,636/466,632/521,636/576,647/606,654/772,681/800,699/827,712/855,714/882,710/911,699/994,710/1021,704/1105,688/1133,681/1190,688/1245,681/1327,676/1356,681/1384,676/1439,670/1466,681/1495,688/1550,676/1566}
  \heatrow{PIF7_SRX5454258(PIF7::PIF7-MYC (D108)_ZT12_27C)}{1/382,2/410,3/437,2/466,1/494,2/521,3/576,4/633,3/800,4/882,6/966,4/994,6/1051,7/1078,6/1105,5/1133,4/1190,6/1217,7/1299,8/1327,9/1356,8/1439,7/1550,6/1566}
  \bartrack{PIF7_SRX5454260(PIF7::PIF7-MYC (D108)_ZT8_27C)}{896}{847/243,840/270,827/300,813/382,820/466,800/549,806/576,787/606,782/633,793/661,802/688,813/745,833/772,840/800,853/827,867/855,853/1021,874/1051,860/1078,874/1133,892/1190,880/1299,860/1411,880/1523,874/1550,860/1566}
  \bartrack{PIF7_SRX5454262(PIF7::PIF7-MYC (D108)_ZT12_27C)}{1030}{1026/243,1019/270,1012/300,1019/327,1012/355,1008/382,988/410,968/437,954/494,941/521,923/576,930/606,923/633,930/800,941/827,930/882,923/939,934/966,954/1051,968/1078,975/1133,961/1190,954/1217,934/1272,941/1299,923/1356,916/1384,930/1439,934/1466,941/1495,948/1550,961/1566}
  \bartrack{RBR1_SRX3531272(RBR1_ChIP_rep1)}{1165}{1116/243,1095/270,1107/300,1127/327,1138/382,1122/410,1100/437,1107/466,1100/521,1084/549,1055/576,1051/606,1055/633,1066/661,1060/688,1066/715,1060/745,1055/772,1060/800,1089/827,1084/855,1077/911,1095/939,1122/966,1127/994,1145/1051,1127/1078,1133/1105,1156/1133,1160/1190,1145/1217,1151/1245,1133/1299,1127/1327,1116/1384,1111/1466,1084/1495,1077/1523,1095/1550,1089/1566}
  \heatrow{RBR1_SRX3531273(RBR1_ChIP_rep2)}{1/300,2/410,1/466,2/576,3/606,5/633,8/688,6/827,7/855,6/882,7/911,8/966,9/994,8/1021,7/1051,8/1160,6/1190,5/1299,6/1356,5/1439,4/1466,3/1495,4/1523,2/1566}
  \bartrack{SE_ERX2858751(Arabidopsis Col-0 WT seedlings biorep1)}{1342}{1250/243,1268/300,1284/327,1301/355,1284/382,1301/410,1286/437,1270/466,1304/494,1322/521,1304/549,1322/576,1338/606,1304/633,1324/661,1310/715,1292/827,1284/882,1268/911,1284/966,1301/994,1279/1021,1261/1160,1279/1190,1275/1217,1292/1272,1310/1327,1308/1384,1295/1411,1279/1439,1261/1495,1243/1523,1228/1550,1268/1566}
  \bartrack{SE_ERX2858752(Arabidopsis Col-0 WT seedlings biorep1)}{1476}{1384/243,1402/300,1418/327,1436/355,1418/382,1436/410,1420/437,1404/466,1438/494,1456/521,1438/549,1456/576,1472/606,1438/633,1458/661,1445/715,1427/827,1418/882,1402/911,1418/966,1436/994,1413/1021,1396/1160,1413/1190,1409/1217,1427/1272,1445/1327,1443/1384,1429/1411,1413/1439,1396/1495,1378/1523,1362/1550,1402/1566}
  \bartrack{SE_ERX2858753(Arabidopsis Col-0 WT seedlings biorep1)}{1611}{1566/243,1557/270,1555/327,1566/382,1555/410,1543/466,1555/494,1566/521,1552/549,1565/606,1575/688,1564/715,1585/745,1597/772,1602/800,1594/827,1597/882,1587/911,1597/939,1602/966,1597/994,1587/1051,1575/1105,1564/1160,1552/1190,1541/1245,1552/1299,1530/1356,1541/1384,1530/1439,1519/1466,1496/1566}
  \def\zscale{2.276}
  \bartrack{SHL_SRX3226098(SHL ChIPSeq-1)}{180}{180/300,176/410,159/549,137/855,159/966,176/1021,159/1078,112/1105,137/1133,112/1190,86/1411,64/1566}
  \heatrow{SHL_SRX3226099(SHL ChIPSeq-2)}{1/827,5/855,2/939,4/1021,6/1160,9/1384,4/1495,2/1566}
  \bartrack{SMXL6_SRX7187013(s678 SMXL6HA_ChIPSeq_Rep1)}{360}{303/243,312/270,319/382,303/410,296/437,289/494,319/521,312/606,335/661,355/688,325/715,335/745,342/855,335/882,325/911,319/939,335/966,348/994,319/1021,325/1133,319/1160,312/1190,303/1217,296/1245,319/1299,303/1327,296/1384,280/1439,296/1466,259/1495,250/1523,244/1550,266/1566}
  \bartrack{SMXL6_SRX7187015(s678 SMXL6HA_ChIPSeq_Rep2)}{496}{439/300,444/327,457/355,460/410,464/466,469/549,476/606,489/633,494/688,485/715,482/745,478/772,476/827,471/855,464/966,457/994,453/1021,446/1078,444/1133,435/1160,439/1190,432/1217,428/1245,435/1272,432/1327,419/1356,403/1384,410/1411,403/1466,382/1495,387/1523,380/1550,382/1566}
  \heatrow{SOB3_SRX5001348(SOB3-GFP ChIP replicate 1)}{9/300,7/437,8/466,7/494,8/549,7/576,6/606,5/661,3/688,1/715,2/745,1/855,2/939,4/966,7/994,6/1021,7/1133,6/1160,7/1272,6/1327,5/1356,8/1384,7/1411,6/1466,5/1495,3/1523,1/1566}
  \heatrow{SOB3_SRX5001349(SOB3-GFP ChIP replicate 2)}{4/270,5/300,4/355,5/382,4/410,5/466,6/494,7/521,6/549,7/606,8/633,9/715,8/745,7/772,6/827,5/882,4/911,5/966,4/1021,3/1051,2/1160,1/1217,2/1327,3/1384,2/1411,3/1466,1/1523,2/1550,3/1566}
  \heatrow{SOG1_SRX3866936(IP_SOG1-3xFLAG_20min)}{4/270,2/300,3/327,2/355,1/494,2/521,1/576,2/661,3/715,2/800,3/827,4/855,3/882,4/911,6/939,7/1078,9/1133,7/1245,5/1299,7/1327,6/1356,5/1439,4/1523,2/1566}
  \bartrack{SOG1_SRX3866937(IP_SOG1-3xFLAG_1h)}{762}{646/243,660/300,667/327,680/355,674/382,680/410,687/437,680/466,687/494,680/521,694/549,717/576,710/606,717/633,737/661,744/715,751/745,757/772,751/800,730/827,737/855,744/911,751/939,744/966,737/994,744/1021,737/1051,744/1105,737/1133,710/1160,717/1190,710/1272,680/1299,674/1327,667/1356,687/1384,667/1439,660/1523,667/1550,653/1566}
  \heatrow{SPL7-SRX250135 (SRX250135: FLAG-SPL7 ChIP-seq)}{2/494,3/549,4/745,3/772,6/855,8/882,9/1051,8/1105,6/1327,3/1411,1/1566}
  \heatrow{SPT6L_SRX5169086(SPT6L-GFP IP rep1)}{1/606,2/633,3/715,4/772,5/827,6/855,7/939,8/1105,9/1160,8/1245,7/1327,6/1411,5/1523,4/1566}
  \heatrow{SPT6L_SRX5169087(SPT6L-GFP IP rep2)}{1/606,2/688,3/745,4/800,5/855,6/882,7/994,8/1051,9/1078,8/1133,9/1245,8/1411,7/1523,6/1566}
  \heatrow{STZ_SRX6460108(STZ_AIR_ChIPseq_rep1)}{2/243,1/410,2/494,3/549,4/633,3/661,2/772,3/800,4/827,6/855,7/911,9/939,7/966,8/994,9/1051,8/1078,9/1105,8/1133,7/1160,6/1190,8/1411,6/1439,7/1466,6/1550,5/1566}
  \bartrack{STZ_SRX6460109(STZ_AIR_ChIPseq_rep2)}{1072}{1031/243,1042/270,1031/300,1017/327,1022/382,1042/410,1065/466,1067/494,1058/549,1015/576,992/633,999/661,1008/688,995/715,992/745,972/772,967/800,972/827,981/855,995/882,1006/911,995/939,1008/966,981/994,972/1021,963/1051,967/1078,956/1105,972/1133,1008/1190,999/1217,995/1245,1006/1299,1017/1327,1022/1356,1029/1384,1015/1439,1006/1466,999/1523,1031/1550,1051/1566}
  \heatrow{STZ_SRX6460110(STZ_AIR_ChIPseq_rep3)}{7/243,6/270,7/382,6/410,4/466,7/494,6/521,5/549,4/576,3/606,1/661,2/800,1/827,3/855,4/882,3/911,6/939,8/994,7/1021,6/1078,7/1105,8/1160,9/1190,7/1217,6/1245,3/1272,4/1327,5/1356,6/1384,3/1466,2/1550,3/1566}
  \bartrack{STZ_SRX6460111(STZ_JA_2hr_ChIPseq_rep1)}{1252}{1199/243,1206/300,1210/327,1206/355,1213/382,1208/410,1213/437,1215/466,1222/494,1219/521,1211/549,1220/576,1227/606,1224/633,1222/661,1233/688,1247/715,1245/745,1241/827,1238/882,1243/911,1224/939,1233/966,1218/994,1222/1021,1204/1051,1202/1105,1188/1133,1190/1160,1186/1217,1167/1245,1154/1272,1142/1299,1140/1327,1136/1356,1140/1411,1136/1466,1149/1495,1147/1523,1161/1550,1177/1566}
  \bartrack{TCP4_SRX4168241(mTCP4_ChIP)}{1388}{1272/243,1279/270,1288/300,1297/410,1306/437,1315/466,1297/521,1288/576,1297/606,1315/633,1331/745,1340/772,1351/827,1359/882,1351/911,1359/1021,1384/1078,1369/1105,1377/1133,1359/1190,1369/1217,1351/1245,1359/1272,1369/1299,1359/1411,1340/1439,1351/1466,1340/1495,1322/1523,1315/1566}
  \heatrow{TFL1_ERX2826885(gTFL1-1xVenus_biorep1)}{1/437,4/466,5/494,4/549,2/576,1/800,3/882,4/911,3/994,2/1021,1/1051,4/1133,5/1160,7/1245,8/1299,9/1327,8/1356,6/1523,5/1566}
  \bartrack{TFL1_ERX2826887(gTFL1-1xVenus_biorep3)}{1568}{1548/270,1557/300,1548/327,1557/355,1564/466,1548/494,1557/521,1564/549,1532/576,1516/633,1525/688,1532/715,1541/745,1557/827,1541/855,1532/882,1525/939,1516/966,1491/994,1484/1021,1500/1051,1475/1078,1459/1105,1484/1133,1491/1190,1500/1217,1484/1272,1475/1356,1468/1439,1475/1466,1459/1495,1452/1523,1459/1550,1466/1566}
\end{tikzpicture}
\end{document}
